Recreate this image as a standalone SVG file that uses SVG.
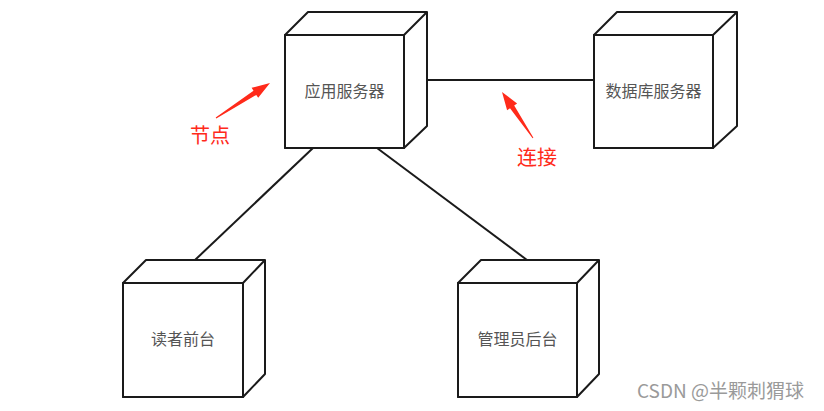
<svg xmlns="http://www.w3.org/2000/svg" width="824" height="411" viewBox="0 0 824 411">
<style>
.box{fill:#fff;stroke:#1a1a1a;stroke-width:2;stroke-linejoin:round}
.lbl{font-family:"Noto Sans CJK SC","Noto Sans",sans-serif;font-size:16px;fill:#555;text-anchor:middle}
.conn{stroke:#1a1a1a;stroke-width:2;fill:none}
.red{fill:#ff2a1a}
.note{font-family:"Noto Sans CJK SC",sans-serif;font-size:20px;fill:#ff2a1a}
.wm{font-family:"Noto Sans CJK SC","Noto Sans",sans-serif;font-size:19px;fill:#9a9a9a}
</style>
<rect width="824" height="411" fill="#fff"/>
<g id="connectors">
<line class="conn" x1="427" y1="80" x2="594" y2="80"/>
<line class="conn" x1="313" y1="148" x2="195" y2="260"/>
<line class="conn" x1="377" y1="148" x2="527" y2="260"/>
</g>
<g id="app-server">
<path class="box" d="M285,35 L308,12 L427,12 L427,126 L404,148 L285,148 Z M404,35 L427,12"/>
<rect class="box" x="285" y="35" width="119" height="113"/>
<text class="lbl" x="344.5" y="97">应用服务器</text>
</g>
<g id="db-server">
<path class="box" d="M594,35 L617,12 L737,12 L737,126 L713,148 L594,148 Z M713,35 L737,12"/>
<rect class="box" x="594" y="35" width="119" height="113"/>
<text class="lbl" x="653.5" y="97">数据库服务器</text>
</g>
<g id="reader-frontend">
<path class="box" d="M123,283 L146,260 L265,260 L265,374 L243,397 L123,397 Z M243,283 L265,260"/>
<rect class="box" x="123" y="283" width="120" height="114"/>
<text class="lbl" x="183" y="345">读者前台</text>
</g>
<g id="admin-backend">
<path class="box" d="M458,283 L481,260 L599,260 L599,374 L577,397 L458,397 Z M577,283 L599,260"/>
<rect class="box" x="458" y="283" width="119" height="114"/>
<text class="lbl" x="517.5" y="345">管理员后台</text>
</g>
<g id="annotations">
<polygon class="red" points="216.3,118.4 256.3,94.9 258.2,97.8 270,83 251.6,87.8 253.5,90.7 215.7,117.6"/>
<text class="note" x="190" y="143">节点</text>
<polygon class="red" points="533.4,137.7 514.2,105.5 517.1,103.5 502,92 507.1,110.3 510.0,108.3 532.6,138.3"/>
<text class="note" x="517" y="165">连接</text>
</g>
<text class="wm" x="637" y="398">CSDN @半颗刺猬球</text>
</svg>
